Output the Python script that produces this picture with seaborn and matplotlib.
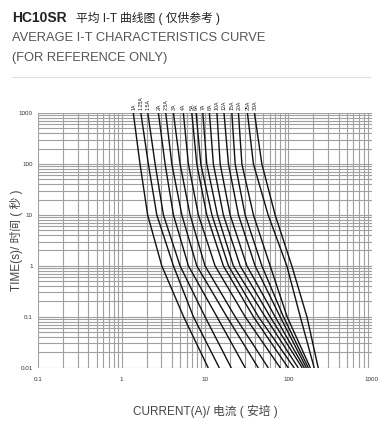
import numpy as np
import pandas as pd
import matplotlib
matplotlib.use('Agg')
import matplotlib.pyplot as plt
from matplotlib.lines import Line2D
import seaborn as sns

times = [1000, 100, 10, 1, 0.1, 0.01]

ratings = ['1A', '1.25A', '1.5A', '2A', '2.5A', '3A', '4A', '5A', '6A',
           '7A', '8A', '10A', '12A', '15A', '20A', '25A', '30A']

# current (A) at each of the times above, per rating
cur_1A = [1.38, 1.66, 2.05, 3.03, 5.54, 10.9]
cur_1_25A = [1.70, 2.09, 2.64, 4.18, 7.26, 14.8]
cur_1_5A = [2.06, 2.52, 3.17, 5.02, 10.0, 20.6]
cur_2A = [2.76, 3.32, 4.18, 6.32, 13.9, 30.3]
cur_2_5A = [3.38, 4.00, 5.27, 7.97, 18.3, 43.4]
cur_3A = [4.18, 5.02, 6.62, 10.0, 23.0, 57.2]
cur_4A = [5.50, 6.32, 8.33, 13.2, 30.3, 79.7]
cur_5A = [6.94, 7.97, 10.5, 16.6, 38.1, 99.4]
cur_6A = [7.82, 8.90, 12.1, 19.1, 43.8, 117]
cur_7A = [9.41, 10.5, 14.1, 21.9, 52.7, 131]
cur_8A = [11.3, 12.6, 16.6, 26.4, 60.5, 146]
cur_10A = [13.9, 15.2, 20.0, 31.8, 69.4, 155]
cur_12A = [16.9, 19.1, 25.2, 39.9, 79.7, 164]
cur_15A = [21.0, 23.0, 30.3, 48.1, 87.3, 173]
cur_20A = [25.2, 27.7, 38.1, 60.5, 96.7, 183]
cur_25A = [32.3, 38.1, 57.2, 95.9, 139, 204]
cur_30A = [39.2, 48.1, 69.4, 110, 167, 228]

currents = [cur_1A, cur_1_25A, cur_1_5A, cur_2A, cur_2_5A, cur_3A, cur_4A,
            cur_5A, cur_6A, cur_7A, cur_8A, cur_10A, cur_12A, cur_15A,
            cur_20A, cur_25A, cur_30A]

rows = []
for name, vals in zip(ratings, currents):
    for t, c in zip(times, vals):
        rows.append({'rating': name, 'current': c, 'time': t})
df = pd.DataFrame(rows)

sns.set_style('white')
plt.rcParams['font.family'] = ['Liberation Sans', 'Noto Sans CJK SC']

fig = plt.figure(figsize=(3.82, 4.28), dpi=100)
ax = fig.add_axes([38.3 / 382, 1 - 367.7 / 428, (371.7 - 38.3) / 382, (367.7 - 113) / 428])

sns.lineplot(data=df, x='current', y='time', hue='rating', units='rating',
             estimator=None, sort=False, palette=['#111111'] * len(ratings),
             linewidth=1.0, legend=False, ax=ax)

ax.set_xscale('log')
ax.set_yscale('log')
ax.set_xlim(0.1, 1000)
ax.set_ylim(0.01, 1000)
ax.grid(True, which='both', color='#a0a0a0', linewidth=0.8)
ax.set_axisbelow(True)
for s in ax.spines.values():
    s.set_visible(False)
ax.tick_params(which='both', length=0, labelsize=4.5, colors='#333333', pad=4)
ax.tick_params(axis='x', pad=7)
ax.set_xticks([0.1, 1, 10, 100, 1000])
ax.set_xticklabels(['0.1', '1', '10', '100', '1000'])
ax.set_yticks([0.01, 0.1, 1, 10, 100, 1000])
ax.set_yticklabels(['0.01', '0.1', '1', '10', '100', '1000'])
ax.set_xlabel('')
ax.set_ylabel('')

# rating labels above each curve
for name, vals in zip(ratings, currents):
    ax.text(vals[0] * 1.01, 1150, name, rotation=90, fontsize=3.8,
            ha='center', va='bottom', color='#222222')

fig.text(12 / 382, 1 - 18 / 428, 'HC10SR', fontsize=10, fontweight='bold',
         color='#222222', va='center', ha='left')
fig.text(76 / 382, 1 - 18 / 428, '平均 I-T 曲线图 ( 仅供参考 )', fontsize=8.5,
         color='#222222', va='center', ha='left')
fig.text(12 / 382, 1 - 38 / 428, 'AVERAGE I-T CHARACTERISTICS CURVE',
         fontsize=9.3, color='#555555', va='center', ha='left')
fig.text(12 / 382, 1 - 58 / 428, '(FOR REFERENCE ONLY)',
         fontsize=9.3, color='#555555', va='center', ha='left')
fig.add_artist(Line2D([12 / 382, 370 / 382], [1 - 77 / 428, 1 - 77 / 428],
                      color='#dddddd', linewidth=0.8))

fig.text(17 / 382, 1 - 240 / 428, 'TIME(s)/ 时间 ( 秒 )', rotation=90,
         fontsize=8.5, color='#444444', va='center', ha='center')
fig.text(205 / 382, 1 - 411 / 428, 'CURRENT(A)/ 电流 ( 安培 )',
         fontsize=8.5, color='#444444', va='center', ha='center')

fig.savefig('out.png', dpi=100)
